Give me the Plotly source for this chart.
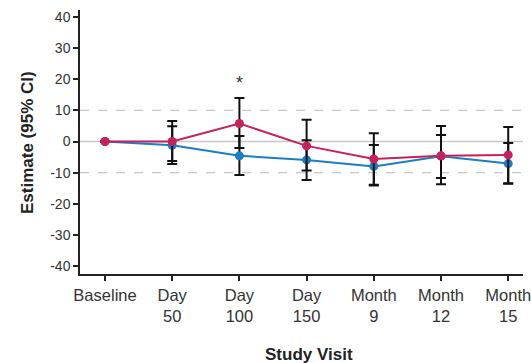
import plotly.graph_objects as go

visits = ["Baseline", "Day<br>50", "Day<br>100", "Day<br>150", "Month<br>9", "Month<br>12", "Month<br>15"]
y_ticks = [40, 30, 20, 10, 0, -10, -20, -30, -40]

red_est = [0, 0.0, 5.8, -1.4, -5.6, -4.6, -4.3]
red_upper = [None, 6.6, 14.0, 7.0, 2.7, 5.0, 4.7]
red_lower = [None, -6.3, -2.1, -9.3, -13.9, -13.7, -13.4]

blue_est = [0, -1.2, -4.6, -5.9, -8.0, -4.7, -7.1]
blue_upper = [None, 4.9, 1.8, 0.4, -1.1, 2.1, -0.45]
blue_lower = [None, -7.2, -10.8, -12.4, -14.1, -11.7, -13.6]

RED = "#C8205A"
BLUE = "#1A7EC4"
FONT = "Liberation Sans, Arial, sans-serif"

W, H = 531, 363
ML, MR, MT, MB = 80, 8, 10, 89
PW, PH = W - ML - MR, H - MT - MB


def err(up, est):
    return [None if u is None else u - e for u, e in zip(up, est)]


def errm(lo, est):
    return [None if l is None else e - l for l, e in zip(lo, est)]


def px_to_paper(xp, yp):
    return (xp - ML) / PW, (H - MB - yp) / PH


x_idx = list(range(len(visits)))

fig = go.Figure()
for est, up, lo, col in [(blue_est, blue_upper, blue_lower, BLUE),
                         (red_est, red_upper, red_lower, RED)]:
    fig.add_trace(go.Scatter(
        x=x_idx, y=est, mode="lines+markers",
        line=dict(color=col, width=2),
        marker=dict(color=col, size=9),
        error_y=dict(type="data", symmetric=False,
                     array=err(up, est), arrayminus=errm(lo, est),
                     color="#111111", thickness=2, width=5),
        showlegend=False,
    ))

for yv in [10, -10]:
    fig.add_hline(y=yv, line=dict(color="#c8c8c8", width=1.2, dash="dash"), layer="below")
fig.add_hline(y=0, line=dict(color="#c8c8c8", width=1.5), layer="below")

fig.add_annotation(x=2, y=18.7, text="*", showarrow=False,
                   font=dict(family=FONT, size=18, color="#333333"))

xt, yt = px_to_paper(309, 354)
fig.add_annotation(x=xt, y=yt, xref="paper", yref="paper", text="<b>Study Visit</b>",
                   showarrow=False, xanchor="center", yanchor="middle",
                   font=dict(family=FONT, size=17, color="#222222"))

xt, yt = px_to_paper(27, 143)
fig.add_annotation(x=xt, y=yt, xref="paper", yref="paper", text="<b>Estimate (95% CI)</b>",
                   showarrow=False, xanchor="center", yanchor="middle", textangle=-90,
                   font=dict(family=FONT, size=17, color="#222222"))

fig.update_layout(
    width=W, height=H,
    margin=dict(l=ML, r=MR, t=MT, b=MB, autoexpand=False),
    plot_bgcolor="white", paper_bgcolor="white",
    font=dict(family=FONT, color="#333333"),
    xaxis=dict(range=[-0.372, 6.22], tickmode="array", tickvals=x_idx, ticktext=visits,
               automargin=False, ticklabeloverflow="allow",
               showgrid=False, zeroline=False, showline=True, linecolor="#222222", linewidth=1.5,
               ticks="outside", ticklen=5, tickcolor="#222222", tickwidth=1.5,
               tickfont=dict(size=16.5, color="#333333")),
    yaxis=dict(range=[-42.6, 42.3], tickmode="array", tickvals=y_ticks,
               ticktext=[str(v) for v in y_ticks], automargin=False, ticklabeloverflow="allow",
               showgrid=False, zeroline=False, showline=True, linecolor="#222222", linewidth=1.5,
               ticks="outside", ticklen=5, tickcolor="#222222", tickwidth=1.5,
               tickfont=dict(size=14, color="#333333")),
)

fig.write_html("out.html", config={"displayModeBar": False},
               post_script="document.body.style.margin='0';document.body.style.overflow='hidden';")
